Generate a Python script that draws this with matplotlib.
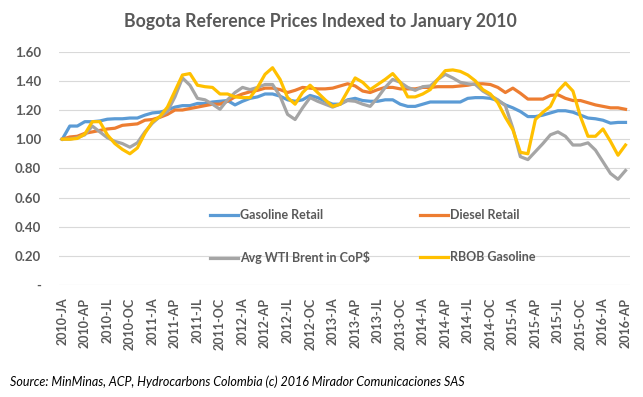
"""
Bogota reference fuel prices, indexed to January 2010 (monthly, 2010-01 .. 2016-04).
"""
import matplotlib
matplotlib.use("Agg")
import matplotlib.pyplot as plt
import numpy as np

# ---------------------------------------------------------------------------
# Data
# ---------------------------------------------------------------------------

gasoline_retail = [
    1.00, 1.09, 1.09, 1.12, 1.12, 1.125, 1.137, 1.14, 1.14, 1.145,
    1.145, 1.165, 1.18, 1.185, 1.20, 1.22, 1.23, 1.23, 1.245, 1.245,
    1.255, 1.26, 1.265, 1.235, 1.26, 1.28, 1.29, 1.31, 1.31, 1.295,
    1.27, 1.26, 1.27, 1.30, 1.285, 1.26, 1.24, 1.24, 1.27, 1.28,
    1.265, 1.26, 1.26, 1.27, 1.27, 1.24, 1.225, 1.225, 1.24, 1.255,
    1.255, 1.255, 1.255, 1.255, 1.28, 1.285, 1.285, 1.28, 1.265, 1.235,
    1.215, 1.19, 1.155, 1.155, 1.165, 1.18, 1.195, 1.195, 1.185, 1.165,
    1.145, 1.14, 1.13, 1.11, 1.115, 1.115,
]

diesel_retail = [
    1.00, 1.015, 1.02, 1.04, 1.05, 1.06, 1.07, 1.075, 1.095, 1.10,
    1.105, 1.13, 1.135, 1.15, 1.17, 1.20, 1.20, 1.21, 1.22, 1.23,
    1.24, 1.24, 1.26, 1.29, 1.31, 1.325, 1.335, 1.35, 1.35, 1.34,
    1.32, 1.335, 1.355, 1.35, 1.345, 1.345, 1.35, 1.365, 1.38, 1.365,
    1.33, 1.32, 1.34, 1.355, 1.355, 1.345, 1.345, 1.345, 1.355, 1.355,
    1.36, 1.36, 1.36, 1.365, 1.37, 1.38, 1.38, 1.375, 1.355, 1.32,
    1.35, 1.315, 1.275, 1.275, 1.275, 1.30, 1.305, 1.28, 1.265, 1.265,
    1.25, 1.235, 1.225, 1.215, 1.215, 1.205,
]

avg_wti_brent = [
    1.00, 1.00, 1.01, 1.03, 1.09, 1.05, 1.01, 0.985, 0.97, 0.945,
    0.975, 1.05, 1.11, 1.155, 1.19, 1.29, 1.42, 1.37, 1.28, 1.27,
    1.24, 1.205, 1.27, 1.32, 1.355, 1.34, 1.355, 1.375, 1.375, 1.295,
    1.17, 1.135, 1.215, 1.285, 1.26, 1.24, 1.22, 1.24, 1.265, 1.26,
    1.24, 1.225, 1.285, 1.355, 1.41, 1.39, 1.355, 1.335, 1.36, 1.365,
    1.41, 1.445, 1.42, 1.39, 1.38, 1.375, 1.33, 1.30, 1.27, 1.23,
    1.075, 0.88, 0.86, 0.915, 0.97, 1.03, 1.05, 1.02, 0.96, 0.96,
    0.975, 0.925, 0.845, 0.765, 0.725, 0.785,
]

rbob_gasoline = [
    1.00, 1.00, 1.005, 1.035, 1.12, 1.12, 1.03, 0.97, 0.93, 0.90,
    0.94, 1.04, 1.12, 1.155, 1.22, 1.33, 1.44, 1.45, 1.37, 1.36,
    1.355, 1.31, 1.31, 1.29, 1.285, 1.285, 1.355, 1.445, 1.49, 1.41,
    1.285, 1.24, 1.32, 1.37, 1.32, 1.27, 1.225, 1.24, 1.33, 1.42,
    1.39, 1.34, 1.375, 1.41, 1.45, 1.39, 1.29, 1.29, 1.31, 1.34,
    1.41, 1.47, 1.475, 1.465, 1.44, 1.40, 1.34, 1.31, 1.25, 1.15,
    1.065, 0.91, 0.90, 1.135, 1.185, 1.225, 1.33, 1.385, 1.33, 1.155,
    1.02, 1.02, 1.07, 0.985, 0.89, 0.96,
]

years = [2010, 2011, 2012, 2013, 2014, 2015, 2016]
quarter_codes = ["JA", "AP", "JL", "OC"]

series_names = ["Gasoline Retail", "Diesel Retail", "Avg WTI Brent in CoP$", "RBOB Gasoline"]
series_colors = ["#5B9BD5", "#ED7D31", "#A5A5A5", "#FFC000"]

# ---------------------------------------------------------------------------
# Figure
# ---------------------------------------------------------------------------

plt.rcParams["font.family"] = ["Lato", "DejaVu Sans"]
TXT = "#595959"

n_months = len(gasoline_retail)
months = np.arange(n_months)

tick_pos = []
tick_lbl = []
for i, y in enumerate(years):
    for q, code in enumerate(quarter_codes):
        m = i * 12 + q * 3
        if m < n_months:
            tick_pos.append(m)
            tick_lbl.append(f"{y}-{code}")

fig = plt.figure(figsize=(6.43, 3.97), dpi=100)
ax = fig.add_axes([0.0922, 0.2821, 0.8876, 0.5877])

all_series = [gasoline_retail, diesel_retail, avg_wti_brent, rbob_gasoline]
lines = []
for vals, name, col in zip(all_series, series_names, series_colors):
    (ln,) = ax.plot(months, vals, color=col, lw=2.3, label=name,
                    solid_joinstyle="round", zorder=3)
    lines.append(ln)

ax.set_xlim(-0.4, n_months - 0.4)
ax.set_ylim(0, 1.6)

yt = np.arange(0, 1.61, 0.2)
ax.set_yticks(yt)
ax.set_yticklabels(["-" if abs(v) < 1e-9 else f"{v:.2f}" for v in yt])
ax.set_xticks(tick_pos)
ax.set_xticklabels(tick_lbl, rotation=90)

ax.grid(axis="y", color="#D9D9D9", lw=0.8, zorder=0)
ax.set_axisbelow(True)
for s in ax.spines.values():
    s.set_visible(False)
ax.tick_params(axis="both", length=0)
ax.tick_params(axis="y", pad=13, labelsize=9.5, labelcolor=TXT)
ax.tick_params(axis="x", pad=9, labelsize=9, labelcolor=TXT)
for lab in ax.get_xticklabels() + ax.get_yticklabels():
    lab.set_fontweight("bold")

# legend: two columns inside the plot area
order = [0, 2, 1, 3]
leg = ax.legend(
    [lines[i] for i in order], [series_names[i] for i in order],
    ncol=2, loc="upper left",
    bbox_to_anchor=(210 / 643, 1 - 209 / 397), bbox_transform=fig.transFigure,
    frameon=False, borderpad=0, borderaxespad=0,
    handlelength=2.2, handletextpad=0.2, columnspacing=4.0, labelspacing=2.4,
    prop={"size": 9, "weight": "bold"},
)
for t in leg.get_texts():
    t.set_color(TXT)

fig.text(0.498, 1 - 21 / 397, "Bogota Reference Prices Indexed to January 2010",
         ha="center", va="center", fontsize=12.7, fontweight="bold", color=TXT)
fig.text(10 / 643, 1 - 382 / 397,
         "Source: MinMinas, ACP, Hydrocarbons Colombia (c) 2016 Mirador Comunicaciones SAS",
         ha="left", va="center", fontsize=9, style="italic", color="black")

fig.savefig("out.png", dpi=100)
plt.close(fig)
